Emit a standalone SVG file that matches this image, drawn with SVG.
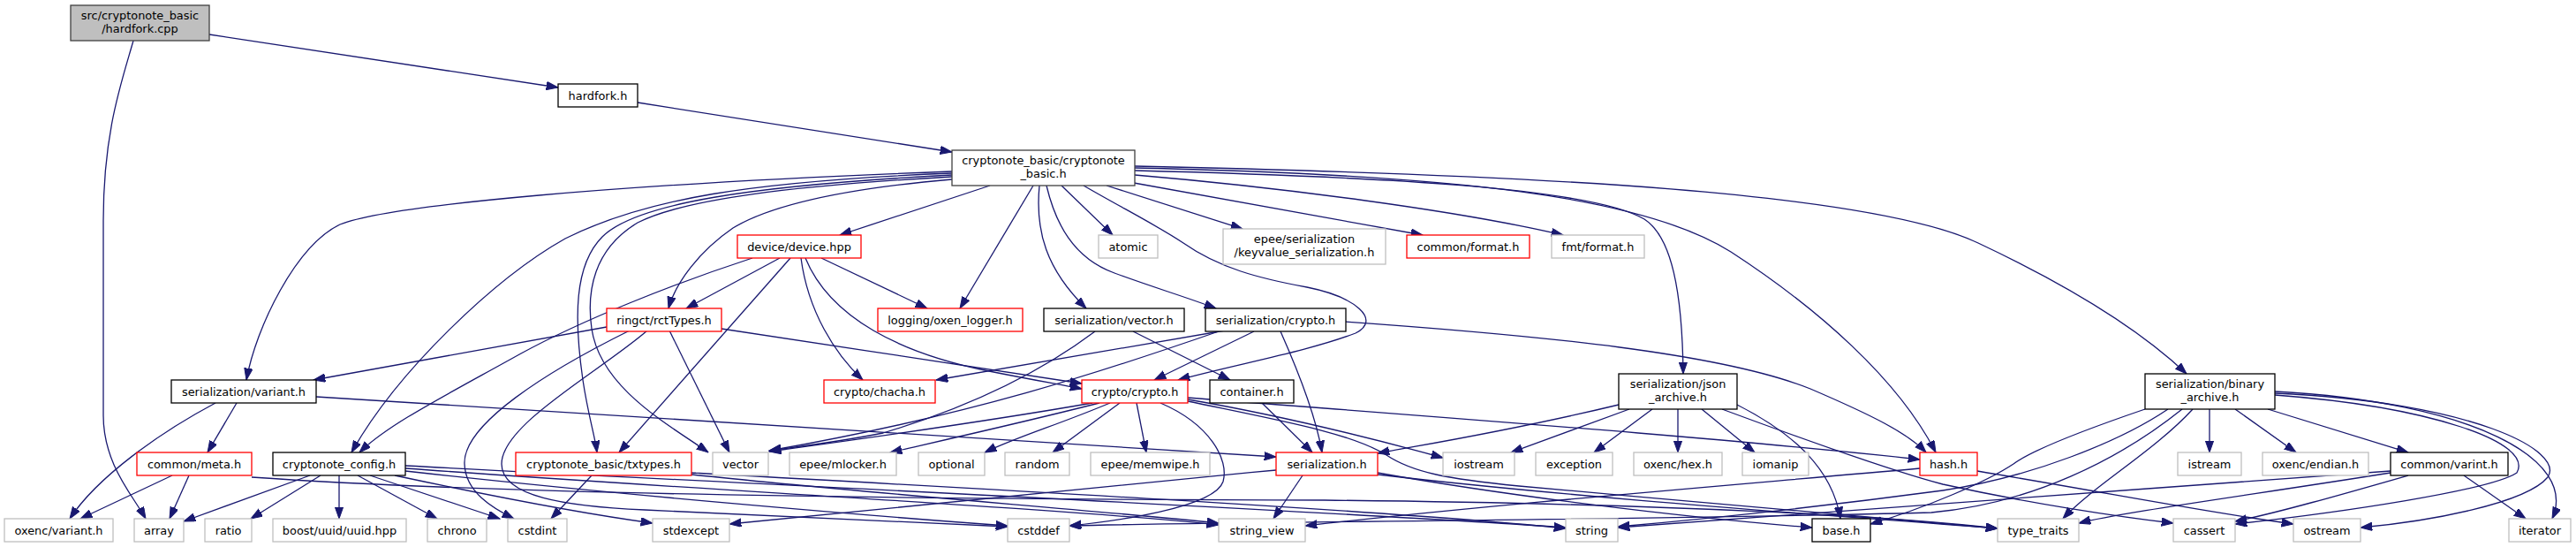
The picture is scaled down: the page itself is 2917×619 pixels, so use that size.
<svg xmlns="http://www.w3.org/2000/svg" width="2917" height="619" viewBox="0 0 2917 619">
<style>
text{font-family:"DejaVu Sans","Liberation Sans",sans-serif;font-size:12.9px;text-anchor:middle;fill:#000}
.n rect{fill:#fff;stroke:#000;stroke-width:1.3}
.g rect{fill:#fff;stroke:#bfbfbf;stroke-width:1.3}
.r rect{fill:#fff;stroke:#ff0000;stroke-width:1.3}
.root rect{fill:#bfbfbf;stroke:#404040;stroke-width:1.3}
.d rect{fill:#fff;stroke:#404040;stroke-width:1.3}
#edges path{fill:none;stroke:#191970;stroke-width:1.3;marker-end:url(#a)}
</style>
<defs>
<marker id="a" markerUnits="userSpaceOnUse" markerWidth="14" markerHeight="10" refX="13.3" refY="4.7" orient="auto" viewBox="0 0 14 10">
<path d="M0,0 L13.3,4.7 L0,9.4 z" fill="#191970" stroke="#191970" stroke-width="1"/>
</marker>
</defs>
<rect width="2917" height="619" fill="#fff"/>
<g id="edges">
<path d="M237,39 L632,99"/>
<path d="M151,46 C137,95 117,150 117,250 L117,470 C117,525 150,560 165,587"/>
<path d="M722,116 L1078,172"/>
<path d="M1121,210 L951,266"/>
<path d="M1202,210 L1260,266"/>
<path d="M1253,210 L1407,259"/>
<path d="M1284,207 L1611,266"/>
<path d="M1285,198 C1450,212 1650,238 1770,266"/>
<path d="M1285,193 C1560,200 1800,212 1862,248 C1893,268 1905,330 1906,423"/>
<path d="M1285,190 C1650,198 1860,222 1960,285 C2060,350 2150,430 2192,512"/>
<path d="M1285,188 C1750,198 2120,218 2240,275 C2340,322 2420,370 2476,423"/>
<path d="M1078,194 C700,208 440,232 385,254 C335,278 290,370 279,430"/>
<path d="M1078,196 C850,205 730,225 640,270 C560,315 450,420 398,512"/>
<path d="M1078,198 C850,210 720,230 682,268 C650,300 650,360 660,430 C666,470 674,495 676,512"/>
<path d="M1078,200 C900,210 775,225 722,252 C672,282 664,330 670,372 C680,440 760,482 802,512"/>
<path d="M1078,203 C950,214 870,234 830,258 C792,284 765,320 757,349"/>
<path d="M1170,210 L1087,349"/>
<path d="M1177,210 C1172,262 1185,305 1230,349"/>
<path d="M1185,210 C1195,252 1215,292 1262,309 C1305,325 1340,335 1377,349"/>
<path d="M1227,210 C1270,235 1310,255 1340,275 C1380,303 1425,315 1480,325 C1535,336 1565,362 1535,377 C1480,398 1400,412 1334,430"/>
<path d="M852,292 C760,322 660,362 590,400 C500,450 440,480 407,512"/>
<path d="M883,292 L777,349"/>
<path d="M895,292 L701,512"/>
<path d="M907,292 C915,352 945,400 977,430"/>
<path d="M912,292 C940,360 1020,400 1120,420 C1170,430 1200,435 1225,440"/>
<path d="M930,292 L1050,349"/>
<path d="M687,370 L355,430"/>
<path d="M713,374 C620,420 524,480 526,525 C527,557 558,575 582,587"/>
<path d="M733,374 C680,420 568,480 568,525 C568,562 640,573 730,577 C900,585 1050,592 1141,596"/>
<path d="M758,374 L826,512"/>
<path d="M817,372 C950,392 1100,415 1225,434"/>
<path d="M244,456 C180,490 110,540 79,587"/>
<path d="M268,456 L235,512"/>
<path d="M358,449 L1445,517"/>
<path d="M195,538 L91,587"/>
<path d="M214,538 L192,587"/>
<path d="M285,540 C500,555 900,565 1500,566 C1900,570 2150,585 2262,598"/>
<path d="M351,538 L208,590"/>
<path d="M363,538 L284,587"/>
<path d="M384,538 L384,587"/>
<path d="M405,538 L495,587"/>
<path d="M419,538 L566,587"/>
<path d="M447,538 C550,560 650,580 739,592"/>
<path d="M459,533 C700,560 1000,585 1141,595"/>
<path d="M459,530 C800,555 1200,575 1380,594"/>
<path d="M459,527 C900,550 1500,578 1773,597"/>
<path d="M670,538 L624,587"/>
<path d="M783,537 C1000,560 1250,578 1380,592"/>
<path d="M783,535 C1200,558 1600,580 1773,598"/>
<path d="M1237,456 C1100,480 950,500 871,511"/>
<path d="M1245,456 C1150,480 1060,500 1008,512"/>
<path d="M1257,456 C1200,480 1150,495 1115,512"/>
<path d="M1268,456 L1192,512"/>
<path d="M1287,456 L1298,512"/>
<path d="M1314,456 C1370,480 1392,520 1385,545 C1375,575 1260,590 1211,595"/>
<path d="M1345,452 C1450,470 1550,495 1634,518"/>
<path d="M1345,450 C1600,470 1950,495 2174,520"/>
<path d="M1345,454 C1450,476 1530,490 1570,515 C1600,535 1640,542 1720,550 C1920,568 2150,588 2262,598"/>
<path d="M1387,374 L1060,430"/>
<path d="M1380,375 C1250,420 1100,470 871,510"/>
<path d="M1420,375 L1307,430"/>
<path d="M1450,375 C1470,420 1490,470 1497,512"/>
<path d="M1523,364 C1750,380 1950,400 2050,440 C2120,470 2160,490 2181,512"/>
<path d="M1240,375 C1180,420 1100,460 1000,490 C950,500 900,506 871,510"/>
<path d="M1283,375 L1393,430"/>
<path d="M1429,456 L1486,512"/>
<path d="M1445,532 C1200,555 950,580 826,593"/>
<path d="M1475,538 L1442,587"/>
<path d="M1560,535 C1700,560 1900,585 2052,597"/>
<path d="M1560,537 C1800,565 2100,585 2262,598"/>
<path d="M1833,458 C1700,490 1600,505 1560,513"/>
<path d="M1845,463 L1711,512"/>
<path d="M1871,463 L1805,512"/>
<path d="M1900,463 L1900,512"/>
<path d="M1927,463 L1987,512"/>
<path d="M1950,463 C2050,500 2150,535 2200,548 C2300,570 2400,585 2461,592"/>
<path d="M1967,458 C2030,490 2075,530 2084,587"/>
<path d="M2483,463 C2440,510 2370,550 2336,587"/>
<path d="M2502,463 L2502,512"/>
<path d="M2531,463 L2600,512"/>
<path d="M2568,463 L2727,512"/>
<path d="M2429,463 C2350,490 2300,510 2280,525 C2250,545 2180,575 2118,593"/>
<path d="M2455,463 C2400,500 2300,540 2200,555 C2050,575 1900,590 1832,596"/>
<path d="M2471,463 C2400,520 2300,570 2187,580 C1800,590 1400,590 1211,595"/>
<path d="M2576,447 C2750,460 2870,500 2850,535 C2820,555 2650,580 2531,593"/>
<path d="M2576,445 C2800,455 2905,510 2885,540 C2860,570 2750,590 2673,597"/>
<path d="M2576,443 C2800,455 2920,520 2890,587"/>
<path d="M2790,538 L2860,587"/>
<path d="M2727,538 C2650,560 2580,580 2531,590"/>
<path d="M2707,535 C2550,560 2400,580 2354,592"/>
<path d="M2707,533 C2400,555 2000,585 1832,597"/>
<path d="M2239,533 C2400,560 2500,580 2597,593"/>
<path d="M2174,530 C1950,550 1700,570 1478,595"/>
</g>
<g id="hardfork_cpp" class="root"><rect x="80" y="6" width="157" height="40"/><text x="158.5" y="22">src/cryptonote_basic</text><text x="158.5" y="37">/hardfork.cpp</text></g>
<g id="hardfork_h" class="n"><rect x="632" y="95" width="90" height="26"/><text x="677" y="112.5">hardfork.h</text></g>
<g id="cryptonote_basic_h" class="d"><rect x="1078" y="170" width="207" height="40"/><text x="1181.5" y="186">cryptonote_basic/cryptonote</text><text x="1181.5" y="201">_basic.h</text></g>
<g id="device" class="r"><rect x="835" y="266" width="140" height="26"/><text x="905" y="283.5">device/device.hpp</text></g>
<g id="atomic" class="g"><rect x="1244" y="266" width="67" height="26"/><text x="1277.5" y="283.5">atomic</text></g>
<g id="keyvalue" class="g"><rect x="1385" y="259" width="184" height="40"/><text x="1477" y="275">epee/serialization</text><text x="1477" y="290">/keyvalue_serialization.h</text></g>
<g id="common_format" class="r"><rect x="1593" y="266" width="139" height="26"/><text x="1662.5" y="283.5">common/format.h</text></g>
<g id="fmt_format" class="g"><rect x="1757" y="266" width="105" height="26"/><text x="1809.5" y="283.5">fmt/format.h</text></g>
<g id="ser_variant" class="n"><rect x="194" y="430" width="164" height="26"/><text x="276" y="447.5">serialization/variant.h</text></g>
<g id="common_meta" class="r"><rect x="155" y="512" width="130" height="26"/><text x="220" y="529.5">common/meta.h</text></g>
<g id="cryptonote_config" class="n"><rect x="309" y="512" width="150" height="26"/><text x="384" y="529.5">cryptonote_config.h</text></g>
<g id="oxenc_variant" class="g"><rect x="5" y="587" width="123" height="26"/><text x="66.5" y="604.5">oxenc/variant.h</text></g>
<g id="array" class="g"><rect x="152" y="587" width="56" height="26"/><text x="180" y="604.5">array</text></g>
<g id="ratio" class="g"><rect x="232" y="587" width="53" height="26"/><text x="258.5" y="604.5">ratio</text></g>
<g id="uuid" class="g"><rect x="309" y="587" width="151" height="26"/><text x="384.5" y="604.5">boost/uuid/uuid.hpp</text></g>
<g id="chrono" class="g"><rect x="484" y="587" width="67" height="26"/><text x="517.5" y="604.5">chrono</text></g>
<g id="cstdint" class="g"><rect x="575" y="587" width="67" height="26"/><text x="608.5" y="604.5">cstdint</text></g>
<g id="txtypes" class="r"><rect x="584" y="512" width="199" height="26"/><text x="683.5" y="529.5">cryptonote_basic/txtypes.h</text></g>
<g id="rctTypes" class="r"><rect x="687" y="349" width="130" height="26"/><text x="752" y="366.5">ringct/rctTypes.h</text></g>
<g id="oxen_logger" class="r"><rect x="994" y="349" width="164" height="26"/><text x="1076" y="366.5">logging/oxen_logger.h</text></g>
<g id="ser_vector" class="n"><rect x="1182" y="349" width="159" height="26"/><text x="1261.5" y="366.5">serialization/vector.h</text></g>
<g id="ser_crypto" class="n"><rect x="1365" y="349" width="159" height="26"/><text x="1444.5" y="366.5">serialization/crypto.h</text></g>
<g id="chacha" class="r"><rect x="933" y="430" width="126" height="26"/><text x="996" y="447.5">crypto/chacha.h</text></g>
<g id="crypto" class="r"><rect x="1225" y="430" width="120" height="26"/><text x="1285" y="447.5">crypto/crypto.h</text></g>
<g id="container" class="n"><rect x="1370" y="430" width="95" height="26"/><text x="1417.5" y="447.5">container.h</text></g>
<g id="vector" class="g"><rect x="807" y="512" width="63" height="26"/><text x="838.5" y="529.5">vector</text></g>
<g id="mlocker" class="g"><rect x="894" y="512" width="121" height="26"/><text x="954.5" y="529.5">epee/mlocker.h</text></g>
<g id="optional" class="g"><rect x="1040" y="512" width="75" height="26"/><text x="1077.5" y="529.5">optional</text></g>
<g id="random" class="g"><rect x="1138" y="512" width="73" height="26"/><text x="1174.5" y="529.5">random</text></g>
<g id="memwipe" class="g"><rect x="1235" y="512" width="135" height="26"/><text x="1302.5" y="529.5">epee/memwipe.h</text></g>
<g id="serialization" class="r"><rect x="1445" y="512" width="115" height="26"/><text x="1502.5" y="529.5">serialization.h</text></g>
<g id="stdexcept" class="g"><rect x="739" y="587" width="87" height="26"/><text x="782.5" y="604.5">stdexcept</text></g>
<g id="cstddef" class="g"><rect x="1141" y="587" width="70" height="26"/><text x="1176" y="604.5">cstddef</text></g>
<g id="string_view" class="g"><rect x="1380" y="587" width="98" height="26"/><text x="1429" y="604.5">string_view</text></g>
<g id="json_archive" class="n"><rect x="1833" y="423" width="134" height="40"/><text x="1900" y="439">serialization/json</text><text x="1900" y="454">_archive.h</text></g>
<g id="iostream" class="g"><rect x="1634" y="512" width="81" height="26"/><text x="1674.5" y="529.5">iostream</text></g>
<g id="exception" class="g"><rect x="1739" y="512" width="87" height="26"/><text x="1782.5" y="529.5">exception</text></g>
<g id="oxenc_hex" class="g"><rect x="1850" y="512" width="100" height="26"/><text x="1900" y="529.5">oxenc/hex.h</text></g>
<g id="iomanip" class="g"><rect x="1973" y="512" width="75" height="26"/><text x="2010.5" y="529.5">iomanip</text></g>
<g id="hash" class="r"><rect x="2174" y="512" width="65" height="26"/><text x="2206.5" y="529.5">hash.h</text></g>
<g id="string" class="g"><rect x="1773" y="587" width="59" height="26"/><text x="1802.5" y="604.5">string</text></g>
<g id="base" class="n"><rect x="2052" y="587" width="66" height="26"/><text x="2085" y="604.5">base.h</text></g>
<g id="binary_archive" class="n"><rect x="2429" y="423" width="147" height="40"/><text x="2502.5" y="439">serialization/binary</text><text x="2502.5" y="454">_archive.h</text></g>
<g id="istream" class="g"><rect x="2466" y="512" width="72" height="26"/><text x="2502" y="529.5">istream</text></g>
<g id="oxenc_endian" class="g"><rect x="2562" y="512" width="120" height="26"/><text x="2622" y="529.5">oxenc/endian.h</text></g>
<g id="common_varint" class="n"><rect x="2707" y="512" width="133" height="26"/><text x="2773.5" y="529.5">common/varint.h</text></g>
<g id="type_traits" class="g"><rect x="2262" y="587" width="92" height="26"/><text x="2308" y="604.5">type_traits</text></g>
<g id="cassert" class="g"><rect x="2461" y="587" width="70" height="26"/><text x="2496" y="604.5">cassert</text></g>
<g id="ostream" class="g"><rect x="2597" y="587" width="76" height="26"/><text x="2635" y="604.5">ostream</text></g>
<g id="iterator" class="g"><rect x="2841" y="587" width="70" height="26"/><text x="2876" y="604.5">iterator</text></g>
</svg>
